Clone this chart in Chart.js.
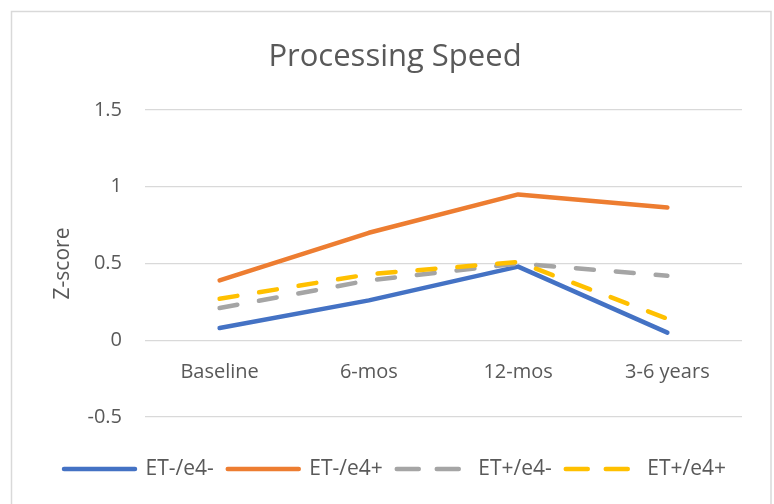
<!DOCTYPE html>
<html>
<head>
<meta charset="utf-8">
<script src="https://cdn.jsdelivr.net/npm/chart.js@4"></script>
<style>
  html, body { margin: 0; padding: 0; background: #ffffff; }
  #wrap { width: 774px; height: 504px; position: relative; }
</style>
</head>
<body>
<div id="wrap"><canvas id="c" width="774" height="504"></canvas></div>
<script>
const categories = ["Baseline", "6-mos", "12-mos", "3-6 years"];
const seriesNames = ["ET-/e4-", "ET-/e4+", "ET+/e4-", "ET+/e4+"];
const etNegE4Neg = [0.08, 0.26, 0.48, 0.05];
const etNegE4Pos = [0.39, 0.70, 0.95, 0.865];
const etPosE4Neg = [0.21, 0.39, 0.50, 0.42];
const etPosE4Pos = [0.27, 0.43, 0.51, 0.14];
const yTicks = [-0.5, 0, 0.5, 1, 1.5];

const FONT = "'Open Sans', sans-serif";
const TXT = "#595959";

const borderPlugin = {
  id: "frame",
  beforeDraw(chart) {
    const ctx = chart.ctx;
    ctx.save();
    ctx.fillStyle = "#ffffff";
    ctx.fillRect(0, 0, chart.width, chart.height);
    ctx.strokeStyle = "#d9d9d9";
    ctx.lineWidth = 1.5;
    ctx.strokeRect(11.5, 11.5, 759.5, 520);
    ctx.restore();
  }
};

function ds(label, data, color, dashed, order) {
  return {
    label, data,
    borderColor: color,
    backgroundColor: color,
    borderWidth: 4.5,
    borderCapStyle: "round",
    borderJoinStyle: "round",
    borderDash: dashed ? [18, 22] : [],
    pointRadius: 0,
    pointHoverRadius: 0,
    tension: 0,
    fill: false,
    order
  };
}

new Chart(document.getElementById("c"), {
  type: "line",
  data: {
    labels: categories,
    datasets: [
      ds(seriesNames[0], etNegE4Neg, "#4472C4", false, 4),
      ds(seriesNames[1], etNegE4Pos, "#ED7D31", false, 3),
      ds(seriesNames[2], etPosE4Neg, "#A5A5A5", true, 2),
      ds(seriesNames[3], etPosE4Pos, "#FFC000", true, 1)
    ]
  },
  options: {
    responsive: false,
    animation: false,
    devicePixelRatio: 1,
    layout: { padding: { left: 40, right: 24, top: 0, bottom: 14.5 } },
    plugins: {
      tooltip: { enabled: false },
      title: {
        display: true,
        text: "Processing Speed",
        color: TXT,
        font: { family: FONT, size: 31, weight: "normal", lineHeight: 1.2 },
        padding: { top: 38.4, bottom: 34.4 }
      },
      legend: {
        position: "bottom",
        labels: {
          color: TXT,
          font: { family: FONT, size: 21 },
          boxWidth: 71,
          boxHeight: 0,
          padding: 14,
          sort: (a, b) => a.datasetIndex - b.datasetIndex
        }
      }
    },
    scales: {
      x: {
        type: "category",
        position: { y: 0 },
        offset: true,
        grid: { display: false, drawTicks: false },
        border: { display: false },
        ticks: {
          color: TXT,
          font: { family: FONT, size: 20 },
          padding: 20.4,
          maxRotation: 0,
          autoSkip: false
        }
      },
      xs: {
        type: "category",
        position: "bottom",
        grid: { display: false, drawTicks: false },
        border: { display: false },
        ticks: { display: false },
        afterFit(s) { s.height = 27.5; }
      },
      y: {
        type: "linear",
        position: "left",
        min: -0.5,
        max: 1.5,
        afterBuildTicks(s) { s.ticks = yTicks.map(v => ({ value: v })); },
        afterFit(s) { s.width = 105; },
        grid: { color: "#d9d9d9", lineWidth: 1.3, drawTicks: false },
        border: { display: false },
        ticks: {
          color: TXT,
          font: { family: FONT, size: 20 },
          padding: 23,
          callback: v => String(v)
        },
        title: {
          display: true,
          text: "Z-score",
          color: TXT,
          font: { family: FONT, size: 21, lineHeight: 1.2 },
          padding: { top: 10.4, bottom: 0 }
        }
      },
      yr: {
        type: "linear",
        position: "right",
        grid: { display: false, drawTicks: false },
        border: { display: false },
        ticks: { display: false },
        afterFit(s) { s.width = 8; }
      }
    }
  },
  plugins: [borderPlugin]
});
</script>
</body>
</html>
